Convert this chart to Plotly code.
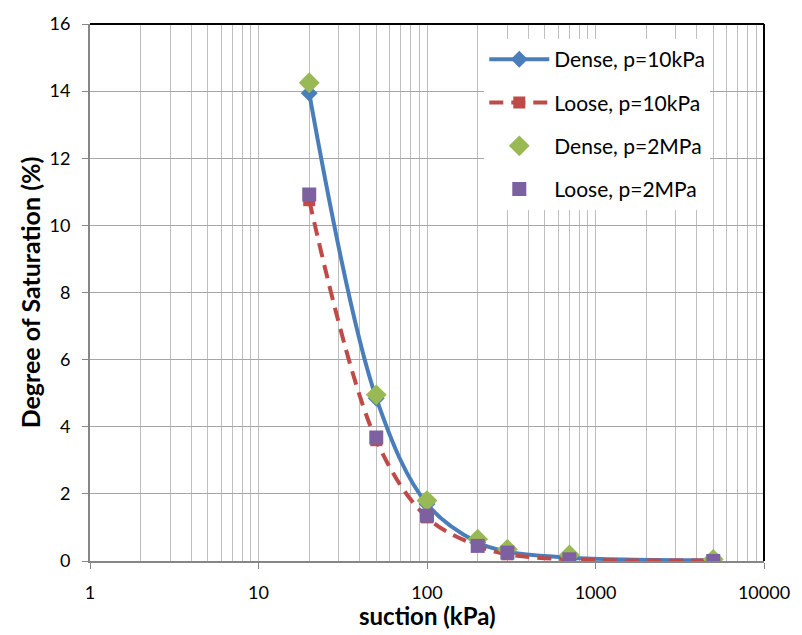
import plotly.graph_objects as go

# suction values (kPa) and degree of saturation (%)
suction = [20, 50, 100, 200, 300, 700, 5000]
dense_10kpa = [13.94, 4.85, 1.70, 0.55, 0.28, 0.10, 0.02]
loose_10kpa = [10.75, 3.60, 1.30, 0.45, 0.20, 0.05, 0.02]
dense_2mpa = [14.25, 4.95, 1.80, 0.65, 0.35, 0.18, 0.05]
loose_2mpa = [10.92, 3.68, 1.35, 0.45, 0.25, 0.05, 0.00]

names = ["Dense, p=10kPa", "Loose, p=10kPa", "Dense, p=2MPa", "Loose, p=2MPa"]
y_ticks = [0, 2, 4, 6, 8, 10, 12, 14, 16]
x_ticks = [1, 10, 100, 1000, 10000]
x_title = "suction (kPa)"
y_title = "Degree of Saturation (%)"

BLUE = "#4A7EBB"
RED = "#BE4B48"
GREEN = "#98B954"
PURPLE = "#7D60A0"
GRID = "#BFBFBF"
AXIS = "#868686"
FONT = "Lato"

fig = go.Figure()
fig.add_trace(go.Scatter(
    x=suction, y=dense_10kpa, name=names[0], mode="lines+markers", legendgroup="g1",
    line=dict(color=BLUE, width=4, shape="spline", smoothing=1.0),
    marker=dict(symbol="diamond", size=13, color=BLUE),
))
fig.add_trace(go.Scatter(
    x=suction, y=loose_10kpa, name=names[1], mode="lines+markers", legendgroup="g2",
    line=dict(color=RED, width=4, dash="14px,8px", shape="spline", smoothing=1.0),
    marker=dict(symbol="square", size=12, color=RED),
))
fig.add_trace(go.Scatter(
    x=suction, y=dense_2mpa, name=names[2], mode="markers", legendgroup="g3",
    marker=dict(symbol="diamond", size=16, color=GREEN),
))
fig.add_trace(go.Scatter(
    x=suction, y=loose_2mpa, name=names[3], mode="markers", legendgroup="g4",
    marker=dict(symbol="square", size=14, color=PURPLE),
))

fig.update_layout(
    width=802, height=635,
    margin=dict(l=90, r=36, t=17, b=74),
    paper_bgcolor="white", plot_bgcolor="white",
    font=dict(family=FONT, size=18, color="black"),
    showlegend=True,
    legend=dict(
        x=0.585, y=0.972, xanchor="left", yanchor="top",
        bgcolor="white", borderwidth=0,
        font=dict(family=FONT, size=21, color="black"),
        tracegroupgap=13, itemwidth=60,
    ),
    xaxis=dict(
        type="log", range=[0, 4],
        tickvals=x_ticks, ticktext=[str(v) for v in x_ticks],
        showgrid=True, gridcolor=GRID, gridwidth=1,
        minor=dict(showgrid=True, gridcolor=GRID, gridwidth=1,
                   tickvals=[m * 10 ** d for d in range(4) for m in range(2, 10)]),
        showline=True, linecolor=AXIS, linewidth=2,
        ticks="outside", ticklen=6, tickcolor=AXIS,
        ticklabelstandoff=8,
        zeroline=False,
    ),
    yaxis=dict(
        range=[0, 16], tickvals=y_ticks, ticktext=[str(v) for v in y_ticks],
        showgrid=True, gridcolor="#A6A6A6", gridwidth=1,
        showline=True, linecolor=AXIS, linewidth=2,
        ticks="outside", ticklen=6, tickcolor=AXIS,
        ticklabelstandoff=8,
        zeroline=False,
        title=dict(text=f"<b>{y_title}</b>", font=dict(family=FONT, size=25), standoff=2),
    ),
    annotations=[
        dict(text=f"<b>{x_title}</b>", xref="paper", yref="paper", x=0.5, y=0,
             xanchor="center", yanchor="middle", yshift=-54, showarrow=False,
             font=dict(family=FONT, size=24, color="black")),
    ],
    shapes=[
        dict(type="line", xref="paper", yref="paper", x0=0, x1=1, y0=1, y1=1,
             line=dict(color="black", width=2)),
        dict(type="line", xref="paper", yref="paper", x0=1, x1=1, y0=0, y1=1,
             line=dict(color="black", width=2)),
    ],
)

fig.write_html("out.html")
